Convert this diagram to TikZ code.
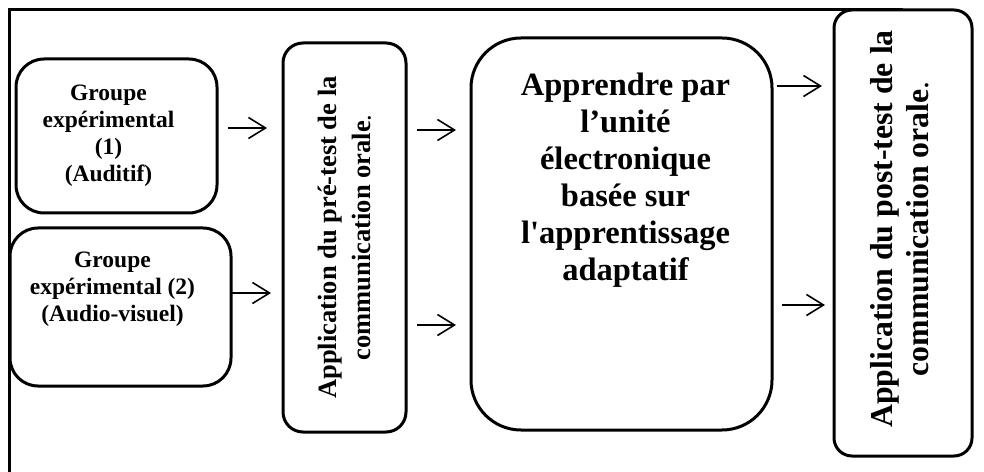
\documentclass[tikz,border=0pt]{standalone}
\usepackage{fontspec}
\newfontfamily\trbf{Liberation Serif}
\usetikzlibrary{arrows.meta,positioning}

\begin{document}
\begin{tikzpicture}[x=1pt,y=1pt,
  box/.style={draw,line width=3pt,rectangle,outer sep=0pt},
  txt/.style={inner sep=0pt,align=center},
  arr/.style={line width=1.6pt,-{Straight Barb[length=17pt,width=21pt]}}]
  \useasboundingbox (0,0) rectangle (984,471);

  \node[box,rounded corners=28pt,minimum width=201pt,minimum height=154pt] (g1) at (116.5,335) {};
  \node[box,rounded corners=28pt,minimum width=221pt,minimum height=158pt] (g2) at (120.5,164) {};
  \node[box,rounded corners=20pt,minimum width=123pt,minimum height=389pt] (pre) at (344.5,233.5) {};
  \node[box,rounded corners=50pt,minimum width=301pt,minimum height=392pt] (learn) at (621.5,237) {};
  \node[box,rounded corners=18pt,minimum width=138pt,minimum height=446pt] (post) at (903,238) {};

  \node[txt,font=\trbf\bfseries\fontsize{23.5}{27}\selectfont,below=26pt of g1.north,xshift=-8pt] (g1txt) {Groupe\\expérimental\\(1)\\(Auditif)};
  \node[txt,font=\trbf\bfseries\fontsize{23.5}{27}\selectfont,below=24pt of g2.north,xshift=-8pt] (g2txt) {Groupe\\expérimental (2)\\(Audio-visuel)};
  \node[txt,font=\trbf\bfseries\fontsize{26.5}{34}\selectfont,rotate=90] (pretxt) at (pre.center) {Application du pré-test de la\\communication orale\textmd{.}};
  \node[txt,font=\trbf\bfseries\fontsize{32.5}{37}\selectfont,below=35pt of learn.north,xshift=4pt] (learntxt) {Apprendre par\\l’unité\\électronique\\basée sur\\l'apprentissage\\adaptatif};
  \node[txt,font=\trbf\bfseries\fontsize{31.8}{36}\selectfont,rotate=90,xshift=4pt,yshift=3pt] (posttxt) at (post.center) {Application du post-test de la\\communication orale\textmd{.}};

  \coordinate (fend) at (9,-10);
  \draw[line width=3pt] (post.north) -| (fend); % frame

  \draw[arr,shorten <=11pt,shorten >=16pt] ([yshift=8pt]g1.east) -- ([yshift=8pt]g1.east -| pre.west);
  \draw[arr,shorten <=1pt,shorten >=12pt] ([yshift=14pt]g2.east) -- ([yshift=14pt]g2.east -| pre.west);
  \draw[arr,shorten <=11pt,shorten >=15pt] ([yshift=107.5pt]pre.east) -- ([yshift=107.5pt]pre.east -| learn.west);
  \draw[arr,shorten <=11pt,shorten >=15pt] ([yshift=-87.5pt]pre.east) -- ([yshift=-87.5pt]pre.east -| learn.west);
  \draw[arr,shorten <=5pt,shorten >=12pt] ([yshift=148pt]learn.east) -- ([yshift=148pt]learn.east -| post.west);
  \draw[arr,shorten <=10pt,shorten >=9pt] ([yshift=-71pt]learn.east) -- ([yshift=-71pt]learn.east -| post.west);
\end{tikzpicture}
\end{document}
